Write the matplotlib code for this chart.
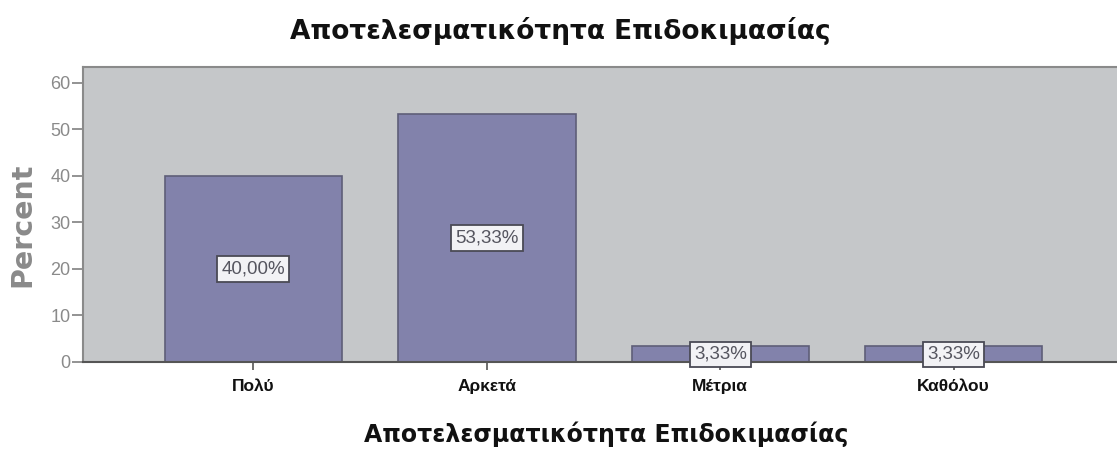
import matplotlib.pyplot as plt

plt.rcParams['font.family'] = ['Liberation Sans', 'DejaVu Sans']

categories = ['Πολύ', 'Αρκετά', 'Μέτρια', 'Καθόλου']
percents = [40.00, 53.33, 3.33, 3.33]
title = 'Αποτελεσματικότητα Επιδοκιμασίας'

fig = plt.figure(figsize=(11.17, 4.49), dpi=100)
ax = fig.add_axes([0.0743, 0.1938, 0.93, 0.657])
ax.set_facecolor('#c5c7c9')

x = range(len(categories))
bars = ax.bar(x, percents, width=0.76, color='#8282ab', edgecolor='#5e5e78', linewidth=1.2)

# value labels sit halfway up each bar
for i, v in enumerate(percents):
    ax.text(i, v / 2, f'{v:.2f}%'.replace('.', ','), ha='center', va='center',
            fontsize=13.5, color='#55555f',
            bbox=dict(boxstyle='square,pad=0.22', facecolor='#f2f2f5', edgecolor='#4a4a55', linewidth=1.3))

ax.set_xlim(-0.73, 3.72)
ax.set_ylim(0, 63.4)
ax.set_yticks([0, 10, 20, 30, 40, 50, 60])
ax.set_xticks(list(x))
ax.set_xticklabels(categories, fontsize=12.5, color='#111111')
ax.tick_params(axis='y', colors='#8a8a8a', labelsize=13, length=8, width=1.3, pad=1)
ax.tick_params(axis='x', colors='#555555', length=6, width=1.2, pad=6)
for lbl in ax.get_xticklabels():
    lbl.set_color('#111111')
    lbl.set_fontweight('semibold')

ax.spines['left'].set_color('#8a8a8a')
ax.spines['left'].set_linewidth(1.5)
ax.spines['top'].set_color('#8a8a8a')
ax.spines['top'].set_linewidth(1.5)
ax.spines['bottom'].set_color('#555555')
ax.spines['bottom'].set_linewidth(1.5)
ax.spines['right'].set_visible(False)

fig.text(0.02, 0.5, 'Percent', rotation=90, ha='center', va='center', fontsize=20.5,
         fontweight='bold', color='#8a8a8a', family='DejaVu Sans')
fig.text(0.5425, 0.016, title, ha='center', va='baseline', fontsize=17, fontweight='bold',
         color='#111111', family='DejaVu Sans')
fig.text(0.502, 0.932, title, ha='center', va='center', fontsize=19, fontweight='bold',
         color='#111111', family='DejaVu Sans')

plt.savefig('out.png', dpi=100)
